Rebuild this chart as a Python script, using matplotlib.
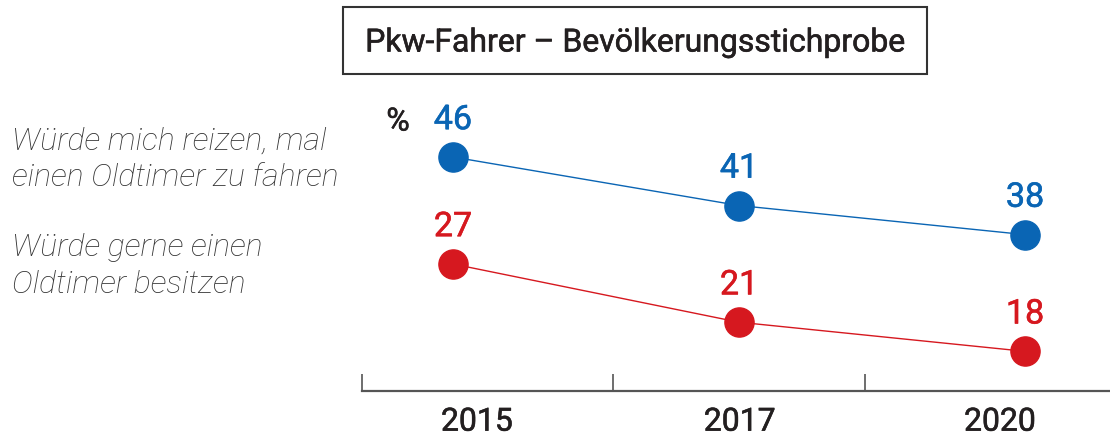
import matplotlib
matplotlib.use("Agg")
import matplotlib.pyplot as plt
import matplotlib.patheffects as pe
from matplotlib.patches import Rectangle

# DATA
years = ["2015", "2017", "2020"]
reizen = [46, 41, 38]    # Würde mich reizen, mal einen Oldtimer zu fahren
besitzen = [27, 21, 18]  # Würde gerne einen Oldtimer besitzen

title = "Pkw-Fahrer – Bevölkerungsstichprobe"
label_reizen = "Würde mich reizen, mal\neinen Oldtimer zu fahren"
label_besitzen = "Würde gerne einen\nOldtimer besitzen"

blue = "#0a65b4"
red = "#d6181f"
dark = "#231f20"

plt.rcParams["font.family"] = ["Roboto", "DejaVu Sans"]


def medium(color):
    # fake a medium weight: regular glyphs with a thin outline
    return [pe.withStroke(linewidth=0.4, foreground=color)]


W, H = 1110, 439
fig = plt.figure(figsize=(W / 100, H / 100), dpi=100)

# axes frame in pixel terms: x 362..1110, y 100..392
rect = [362 / W, (H - 392) / H, (1110 - 362) / W, 292 / H]
ax = fig.add_axes(rect)
ax2 = fig.add_axes(rect, sharex=ax)
ax2.patch.set_visible(False)

x = list(range(len(years)))
ax.set_xlim(-0.318, 2.297)
ax.set_ylim(21.88, 51.98)
ax2.set_ylim(13.91, 44.01)

ax.plot(x, reizen, color=blue, lw=1.0, marker="o", ms=21, zorder=3)
ax2.plot(x, besitzen, color=red, lw=1.0, marker="o", ms=21, zorder=3)

for xi, v in zip(x, reizen):
    ax.annotate(str(v), (xi, v), xytext=(0, 15), textcoords="offset points",
                ha="center", va="bottom", fontsize=24.5, color=blue,
                path_effects=medium(blue))
for xi, v in zip(x, besitzen):
    ax2.annotate(str(v), (xi, v), xytext=(0, 15), textcoords="offset points",
                 ha="center", va="bottom", fontsize=24.5, color=red,
                 path_effects=medium(red))

for a in (ax, ax2):
    for s in ("top", "right", "left"):
        a.spines[s].set_visible(False)
    a.set_yticks([])
ax2.spines["bottom"].set_visible(False)
ax2.tick_params(axis="x", which="both", bottom=False, labelbottom=False)

ax.spines["bottom"].set_color("#555555")
ax.spines["bottom"].set_linewidth(1.6)
ax.set_xticks([-0.318, 0.559, 1.441])
ax.set_xticklabels([])
ax.tick_params(axis="x", which="major", direction="in", length=12,
               width=1.2, color="#555555")
ax.set_xticks([0.084, 1.003, 1.913], minor=True)
ax.set_xticklabels(years, minor=True)
ax.tick_params(axis="x", which="minor", length=0, pad=12,
               labelsize=23, labelcolor=dark)
for t in ax.get_xticklabels(minor=True):
    t.set_path_effects(medium(dark))

# percent sign
fig.text(398 / W, 1 - 123 / H, "%", ha="center", va="center",
         fontsize=23, color=dark, path_effects=medium(dark))

# title box
fig.patches.append(Rectangle((343 / W, (H - 75) / H), 584 / W, 67 / H,
                             transform=fig.transFigure, fill=False,
                             edgecolor="#333333", lw=1.5))
fig.text(636 / W, 1 - 44 / H, title, ha="center", va="center",
         fontsize=23, color=dark, path_effects=medium(dark))

# series labels
fig.text(12 / W, 1 - 159 / H, label_reizen, ha="left", va="center",
         fontsize=23, style="italic", fontweight="light", color="#333333",
         linespacing=1.33)
fig.text(12 / W, 1 - 266 / H, label_besitzen, ha="left", va="center",
         fontsize=23, style="italic", fontweight="light", color="#333333",
         linespacing=1.33)

fig.savefig("out.png", dpi=100)
